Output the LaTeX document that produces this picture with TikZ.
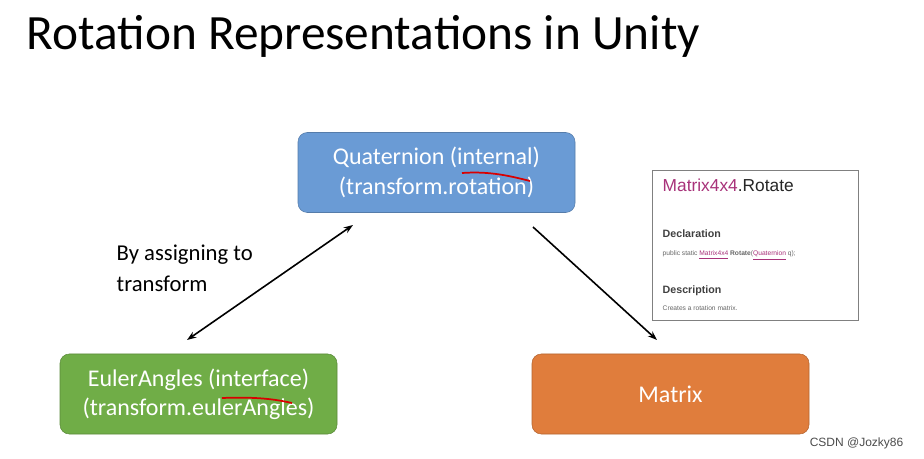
\documentclass[tikz,border=0pt]{standalone}
\usepackage{fontspec}
\setmainfont{Carlito}
\newfontfamily\robo{Liberation Sans}
\usetikzlibrary{arrows.meta}
\definecolor{qblue}{HTML}{6A9BD5}
\definecolor{egreen}{HTML}{70AD47}
\definecolor{morange}{HTML}{E07D3C}
\definecolor{mag}{HTML}{A8327A}
\begin{document}
\begin{tikzpicture}[x=0.75pt,y=-0.75pt,
  box/.style={draw=#1!80!black,fill=#1,rounded corners=7pt,minimum width=277*0.75pt,minimum height=80*0.75pt,text=white,font=\fontsize{18}{22}\selectfont,align=center},
  arr/.style={-{Stealth[length=7pt,width=5pt]},line width=1.2pt}]
\useasboundingbox[fill=white] (0,0) rectangle (924,459);
\node[anchor=base west,font=\fontsize{37}{40}\selectfont] (title) at (22,50) {Rotation Representations in Unity};
\node[box=qblue] (q) at (436.5,172.5) {Quaternion (internal)\\(transform.rotation)};
\node[box=egreen] (e) at (198.5,394) {EulerAngles (interface)\\(transform.eulerAngles)};
\node[box=morange] (m) at (670.5,394) {Matrix};
\coordinate (q1) at (353,225); \coordinate (e1) at (187,340);
\coordinate (q2) at (533,227); \coordinate (m1) at (657,340);
\draw[arr,{Stealth[length=7pt,width=5pt]}-{Stealth[length=7pt,width=5pt]}] (e1) -- (q1);
\draw[arr] (q2) -- (m1);
\node[anchor=west,align=left,font=\fontsize{17}{23}\selectfont] (lab) at (112,268) {By assigning to\\transform};
\draw[red!85!black,line width=1.3pt] (462,173) .. controls (490,171) and (510,176) .. (530,181);
\draw[red!85!black,line width=1.3pt] (222,398) .. controls (250,397) and (270,398) .. (292,403);
\node[draw=gray,line width=1pt,minimum width=206*0.75pt,minimum height=150*0.75pt,anchor=north west] (doc) at (652,170) {};
\node[anchor=base west,font=\robo\fontsize{13}{15}\selectfont] (dt) at (658,192) {\textcolor{mag}{Matrix4x4}\textcolor{black!85}{.Rotate}};
\node[anchor=base west,font=\robo\bfseries\fontsize{8}{10}\selectfont,text=black!75] (dd) at (658,238) {Declaration};
\node[anchor=base west,font=\robo\fontsize{5}{6}\selectfont,text=black!60] (dc) at (658,256) {public static \textcolor{mag}{\underline{Matrix4x4}} \textbf{Rotate}(\textcolor{mag}{\underline{Quaternion}} q);};
\node[anchor=base west,font=\robo\bfseries\fontsize{8}{10}\selectfont,text=black!75] (ds) at (658,294) {Description};
\node[anchor=base west,font=\robo\fontsize{5}{6}\selectfont,text=black!60] (dx) at (658,311) {Creates a rotation matrix.};
\node[anchor=base east,font=\robo\fontsize{9}{10}\selectfont,text=black!70] (wm) at (908,446) {CSDN @Jozky86};
\end{tikzpicture}
\end{document}
